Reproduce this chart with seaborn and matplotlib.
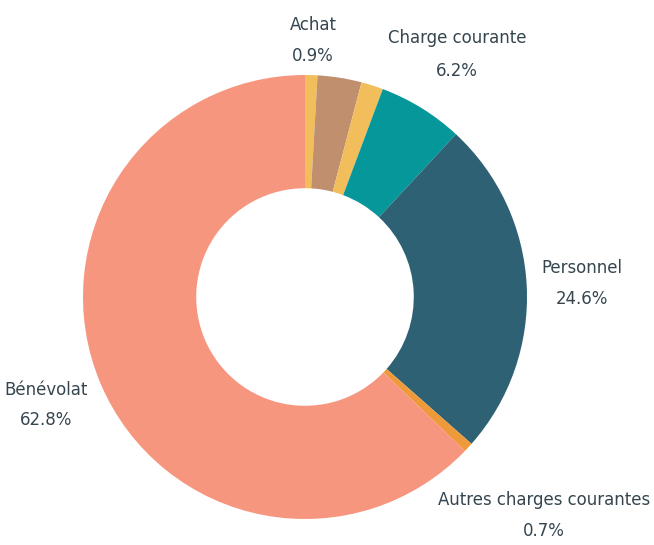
import matplotlib
matplotlib.use("Agg")
import matplotlib.pyplot as plt
import seaborn as sns

# ---- data ----
categories = ["Achat", "", "", "Charge courante", "Personnel",
              "Autres charges courantes", "Bénévolat"]
values = [0.9, 3.2, 1.6, 6.2, 24.6, 0.7, 62.8]
colors = ["#F2BE5C", "#BF8F6E", "#F2BE5C", "#06979B", "#2F6175",
          "#EE9A3A", "#F7967F"]

sns.set_theme(style="white")
plt.rcParams["font.family"] = ["DejaVu Sans"]
plt.rcParams["font.stretch"] = "condensed"

fig = plt.figure(figsize=(6.54, 5.45), dpi=100)
ax = fig.add_axes([0, 0, 1, 1])

R = 222.0  # radius in pixels
cx, cy = 305.0, 297.0
ax.pie(values, colors=colors, startangle=90, counterclock=False,
       radius=1.0, wedgeprops=dict(width=0.51, linewidth=0))

ax.set_xlim(-cx / R, (654 - cx) / R)
ax.set_ylim(-(545 - cy) / R, cy / R)
ax.set_aspect("equal")
ax.axis("off")

# label positions (pixel centres of the two text lines)
label_pos = {
    "Achat": (313, 25, 56),
    "Charge courante": (457, 38, 71),
    "Personnel": (582, 268, 299),
    "Bénévolat": (46, 390, 420),
    "Autres charges courantes": (544, 500, 531),
}
txt_color = "#35454F"
for name, v in zip(categories, values):
    if not name:
        continue
    px, py1, py2 = label_pos[name]
    ax.text((px - cx) / R, (cy - py1) / R, name, ha="center", va="center",
            fontsize=13.2, color=txt_color, fontstretch="condensed")
    ax.text((px - cx) / R, (cy - py2) / R, f"{v:.1f}%", ha="center",
            va="center", fontsize=13.2, color=txt_color,
            fontstretch="condensed")

fig.savefig("out.png", dpi=100, facecolor="white")
